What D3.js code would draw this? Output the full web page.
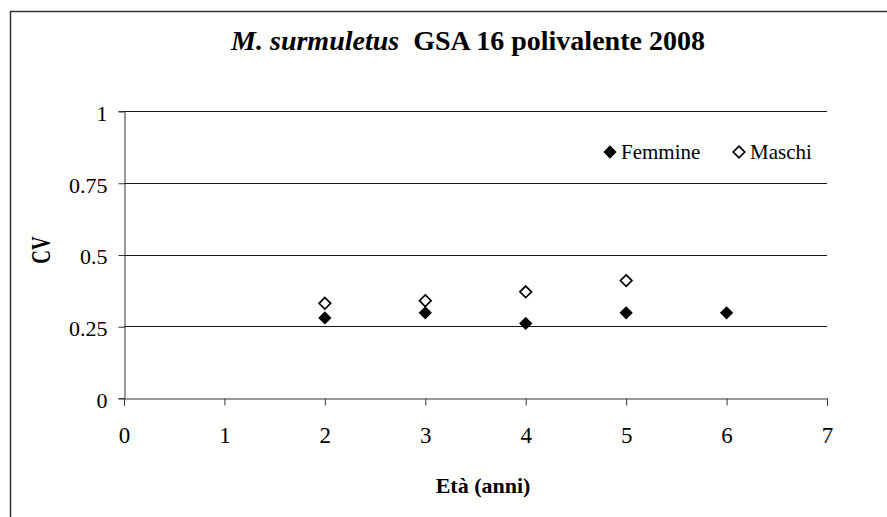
<!DOCTYPE html>
<html lang="en">
<head>
<meta charset="UTF-8">
<title>M. surmuletus GSA 16 polivalente 2008</title>
<script src="https://d3js.org/d3.v7.min.js"></script>
<style>
  body { margin: 0; background: #fff; }
</style>
</head>
<body>
<svg id="chart"></svg>
<script>
// chart values
var ages = [2, 3, 4, 5, 6];
var femmine = [0.279, 0.297, 0.260, 0.297, 0.297];
var maschiAges = [2, 3, 4, 5];
var maschi = [0.330, 0.339, 0.370, 0.409];
var xTicks = [0, 1, 2, 3, 4, 5, 6, 7];
var yTicks = [0, 0.25, 0.5, 0.75, 1];
var yTickLabels = ["0", "0.25", "0.5", "0.75", "1"];

var FONT = '"Liberation Serif", "Times New Roman", serif';
var W = 887, H = 517;
var margin = {top: 111, right: 60, bottom: 119, left: 124};
var width = W - margin.left - margin.right,
    height = H - margin.top - margin.bottom;

var svg = d3.select("#chart").attr("width", W).attr("height", H);

// outer frame (runs off the right and bottom of the picture)
svg.append("rect")
    .attr("x", 10.5).attr("y", 11.5)
    .attr("width", 900).attr("height", 600)
    .attr("fill", "#fff").attr("stroke", "#333").attr("stroke-width", 1.5);

var g = svg.append("g").attr("transform", `translate(${margin.left},${margin.top})`);

var x = d3.scaleLinear().domain([0, 7]).range([0, width]);
var y = d3.scaleLinear().domain([0, 1]).range([height, 0]);

// gridlines
g.selectAll(".grid")
    .data(yTicks.filter(function(d) { return d > 0; }))
  .enter().append("line")
    .attr("x1", 0).attr("x2", width)
    .attr("y1", function(d) { return Math.round(y(d)) + 0.5; })
    .attr("y2", function(d) { return Math.round(y(d)) + 0.5; })
    .attr("stroke", "#1a1a1a").attr("stroke-width", 1);

// y axis
var yAxis = d3.axisLeft(y).tickValues(yTicks)
    .tickFormat(function(d, i) { return yTickLabels[i]; })
    .tickSize(6).tickPadding(11);
var ya = g.append("g").attr("transform", "translate(0.5,0)").call(yAxis);
ya.select(".domain").attr("stroke", "#333");
ya.selectAll(".tick line").attr("stroke", "#333");
ya.selectAll(".tick line").attr("transform", "translate(0,0.5)");
ya.selectAll("text")
    .attr("dy", "0.42em")
    .style("font-family", FONT).style("font-size", "22px").attr("fill", "#000");

// x axis
var xAxis = d3.axisBottom(x).tickValues(xTicks).tickFormat(d3.format("d")).tickSize(7);
var xa = g.append("g").attr("transform", `translate(0,${Math.round(height) + 0.5})`).call(xAxis);
xa.select(".domain").attr("stroke", "#333");
xa.selectAll(".tick line").attr("stroke", "#333");
xa.selectAll("text")
    .attr("y", 44).attr("dy", 0)
    .style("font-family", FONT).style("font-size", "23px").attr("fill", "#000");

// markers
var fullDiamond = d3.symbol().type(d3.symbolDiamond2).size(112);
var openDiamond = d3.symbol().type(d3.symbolDiamond2).size(85);

g.selectAll(".fem")
    .data(femmine)
  .enter().append("path")
    .attr("class", "fem")
    .attr("d", fullDiamond)
    .attr("transform", function(d, i) { return `translate(${x(ages[i])},${y(d)})`; })
    .attr("fill", "#000");

g.selectAll(".mas")
    .data(maschi)
  .enter().append("path")
    .attr("class", "mas")
    .attr("d", openDiamond)
    .attr("transform", function(d, i) { return `translate(${x(maschiAges[i])},${y(d)})`; })
    .attr("fill", "#fff").attr("stroke", "#000").attr("stroke-width", 1.7);

// title
var title = svg.append("text")
    .attr("x", 468).attr("y", 50)
    .attr("text-anchor", "middle")
    .style("font-family", FONT).style("font-size", "28px").style("font-weight", "bold");
title.append("tspan").style("font-style", "italic").text("M. surmuletus");
title.append("tspan").attr("dx", 14).text("GSA 16 polivalente 2008");

// axis titles
svg.append("text")
    .attr("x", 483).attr("y", 493)
    .attr("text-anchor", "middle")
    .style("font-family", FONT).style("font-size", "22px").style("font-weight", "bold")
    .text("Età (anni)");

svg.append("text")
    .attr("transform", "translate(50,250) rotate(-90) scale(1,1.4)")
    .attr("text-anchor", "middle")
    .style("font-family", FONT).style("font-size", "19px").style("font-weight", "bold")
    .text("CV");

// legend
var legend = svg.append("g").attr("transform", "translate(610,152)");
legend.append("path").attr("d", fullDiamond).attr("fill", "#000");
legend.append("text").attr("x", 11).attr("y", 6.5)
    .style("font-family", FONT).style("font-size", "21px").text("Femmine");
legend.append("path")
    .attr("d", openDiamond)
    .attr("transform", "translate(129,0)")
    .attr("fill", "#fff").attr("stroke", "#000").attr("stroke-width", 1.7);
legend.append("text").attr("x", 140).attr("y", 6.5)
    .style("font-family", FONT).style("font-size", "21px").text("Maschi");
</script>
</body>
</html>
